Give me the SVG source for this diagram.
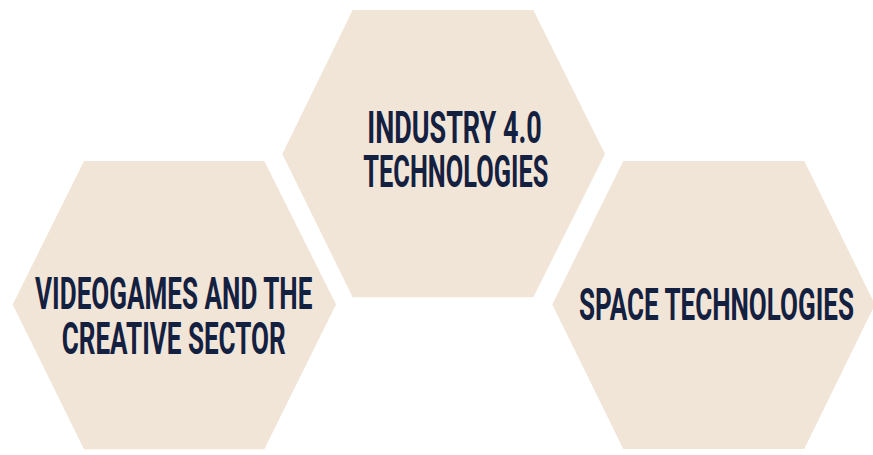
<svg xmlns="http://www.w3.org/2000/svg" width="873" height="455" viewBox="0 0 873 455">
<style>
.hex{fill:#F1E5D8;}
.lbl{font-family:Roboto,"Liberation Sans",sans-serif;font-weight:700;font-size:43.5px;fill:#14203F;text-anchor:middle;}
</style>
<rect width="873" height="455" fill="#FFFFFF"/>
<g id="connectors"></g>
<g id="node-industry">
<polygon class="hex" points="282.3,154 352.7,10 533.3,10 605,154 533.3,297.3 352.7,297.3"/>
<text class="lbl" x="454.5" y="142.7" textLength="174.4" lengthAdjust="spacingAndGlyphs">INDUSTRY 4.0</text>
<text class="lbl" x="455.8" y="186.7" textLength="185" lengthAdjust="spacingAndGlyphs">TECHNOLOGIES</text>
</g>
<g id="node-videogames">
<polygon class="hex" points="12.7,304.5 84,161 264.3,161 336,304.5 264.3,449.3 84,449.3"/>
<text class="lbl" x="173.7" y="309.3" textLength="277.3" lengthAdjust="spacingAndGlyphs">VIDEOGAMES AND THE</text>
<text class="lbl" x="173.7" y="354" textLength="224" lengthAdjust="spacingAndGlyphs">CREATIVE SECTOR</text>
</g>
<g id="node-space">
<polygon class="hex" points="552.3,304.5 623.3,161 804.3,161 875,304.5 804.3,449 623.3,449"/>
<text class="lbl" x="716.5" y="320" textLength="275" lengthAdjust="spacingAndGlyphs">SPACE TECHNOLOGIES</text>
</g>
</svg>
